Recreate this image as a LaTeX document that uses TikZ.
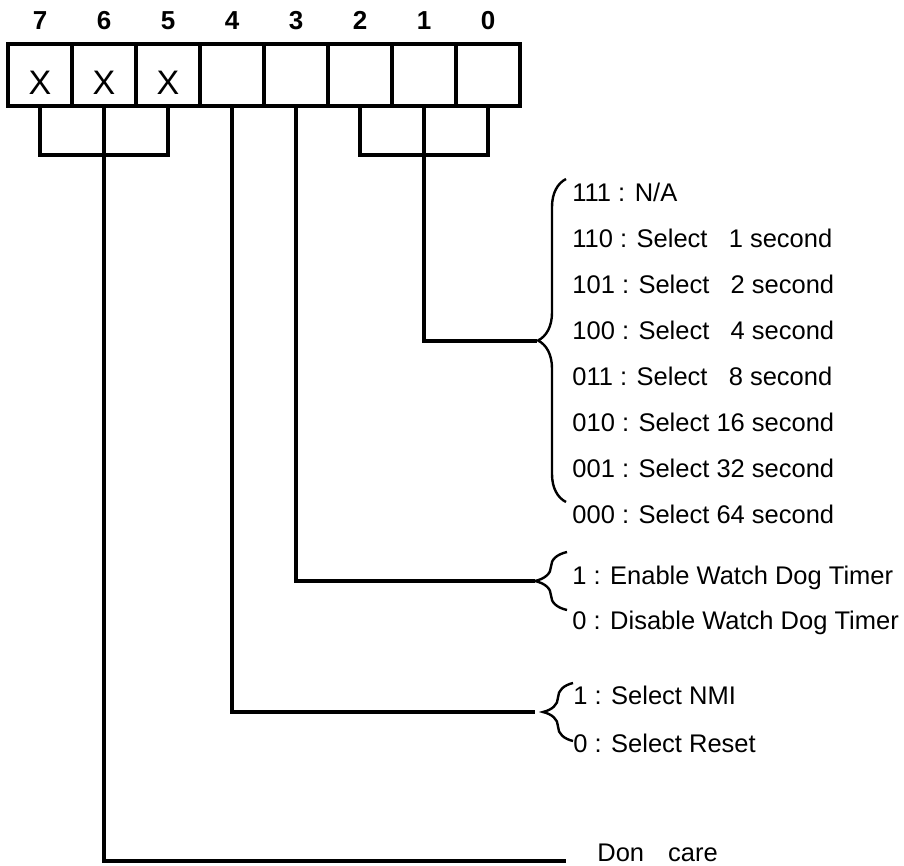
\documentclass[tikz,border=0pt]{standalone}
\usepackage{fontspec}
\setmainfont{Liberation Sans}
\usetikzlibrary{calc,decorations.pathreplacing}

\begin{document}
\begin{tikzpicture}[x=0.5pt,y=-0.5pt,
    cell/.style={draw,line width=2pt,minimum width=32pt,minimum height=31pt,inner sep=0pt,
      text height=19.2pt,text depth=0pt,font=\fontsize{17}{17}\selectfont},
    bitno/.style={inner sep=0pt,text height=9.3pt,text depth=0pt,
      font=\fontsize{13}{13}\selectfont\bfseries},
    opt/.style={anchor=west,inner sep=0pt,text height=9.1pt,text depth=0pt,
      font=\fontsize{12.75}{14}\selectfont},
    wire/.style={line width=2pt},
    selbrace/.style={decorate,decoration={brace,amplitude=#1},line width=1.2pt}]
\useasboundingbox (0,0) rectangle (904,866);

% register cells
\foreach \b/\t [count=\i from 0] in {7/X,6/X,5/X,4/{},3/{},2/{},1/{},0/{}}{
  \node[cell] (b\b) at (40+64*\i,75) {\t};
  \node[bitno] (n\b) at (40+64*\i,20) {\b};
}

% bits 7..5 : don't care
\coordinate (j75) at (104,155);
\draw[wire] (b7.south) |- (j75) -| (b5.south);
\node[opt] (dc) at (597,852) {Don\hspace{12pt}care};
\coordinate (e6) at (566,861);
\draw[wire] (b6.south) |- (e6);

% bits 2..0 : timeout
\coordinate (j20) at (424,155);
\draw[wire] (b2.south) |- (j20) -| (b0.south);
\foreach \t [count=\k from 0] in {111 : N/A,
    110 : Select \phantom{1}1 second,
    101 : Select \phantom{1}2 second,
    100 : Select \phantom{1}4 second,
    011 : Select \phantom{1}8 second,
    010 : Select 16 second,
    001 : Select 32 second,
    000 : Select 64 second}
  \node[opt] (w\k) at (572,192+46*\k) {\t};
\coordinate (t1) at (537,341);
\draw[wire] (b1.south) |- (t1);
\draw[selbrace=14pt] (566,502) -- (566,179);

% bit 3 : enable
\node[opt] (en) at (572,575) {1 : Enable Watch Dog Timer};
\node[opt] (dis) at (572,620) {0 : Disable Watch Dog Timer};
\coordinate (t3) at (535,581);
\draw[wire] (b3.south) |- (t3);
\draw[selbrace=16pt] (567,610) -- (567,552);

% bit 4 : NMI / reset
\node[opt] (nmi) at (573,695) {1 : Select NMI};
\node[opt] (rst) at (573,743) {0 : Select Reset};
\coordinate (t4) at (535,712);
\draw[wire] (b4.south) |- (t4);
\draw[selbrace=15pt] (573,741) -- (573,683);
\end{tikzpicture}
\end{document}
